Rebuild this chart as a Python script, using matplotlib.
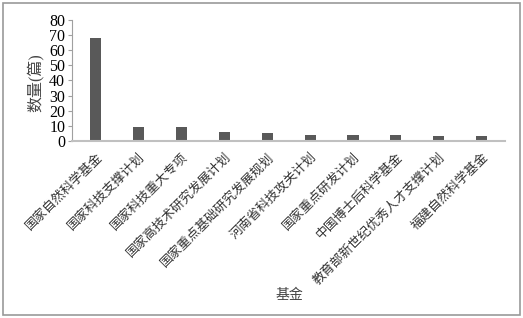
import matplotlib
matplotlib.use("Agg")
import matplotlib.pyplot as plt
from matplotlib.patches import Rectangle

plt.rcParams['font.family'] = ['Liberation Serif', 'Noto Sans CJK SC', 'DejaVu Sans']

funds = ["国家自然科学基金", "国家科技支撑计划", "国家科技重大专项", "国家高技术研究发展计划",
         "国家重点基础研究发展规划", "河南省科技攻关计划", "国家重点研发计划",
         "中国博士后科学基金", "教育部新世纪优秀人才支撑计划", "福建自然科学基金"]
counts = [68, 9, 9, 6, 5, 4, 4, 4, 3, 3]

fig = plt.figure(figsize=(5.23, 3.18), dpi=100)
ax = fig.add_axes([0.138, 0.557, 0.828, 0.38])

x = range(len(funds))
ax.bar(x, counts, width=0.26, color="#595959")

ax.set_xlim(-0.55, len(funds) - 0.45)
ax.set_ylim(0, 80)
ax.set_yticks(range(0, 81, 10))
ax.set_xticks(list(x))
ax.set_xticklabels(funds, rotation=45, ha="right", rotation_mode="anchor",
                   fontsize=9.3, color="#333333")
ax.tick_params(axis="x", length=0, pad=7)
ax.tick_params(axis="y", length=3, color="#a0a0a0", labelsize=11.5, pad=2)

for s in ["top", "right"]:
    ax.spines[s].set_visible(False)
ax.spines["left"].set_color("#a0a0a0")
ax.spines["bottom"].set_color("#c0c0c0")
ax.spines["bottom"].set_linewidth(1.5)

fig.text(0.067, 0.739, "数量(篇)", rotation=90, ha="center", va="center", fontsize=11.5, color="#444444")
fig.text(0.553, 0.072, "基金", ha="center", va="center", fontsize=10, color="#444444")

fig.patches.append(Rectangle((0.006, 0.008), 0.988, 0.984, transform=fig.transFigure,
                             fill=False, edgecolor="#999999", linewidth=1.2))

fig.savefig("out.png", dpi=100)
